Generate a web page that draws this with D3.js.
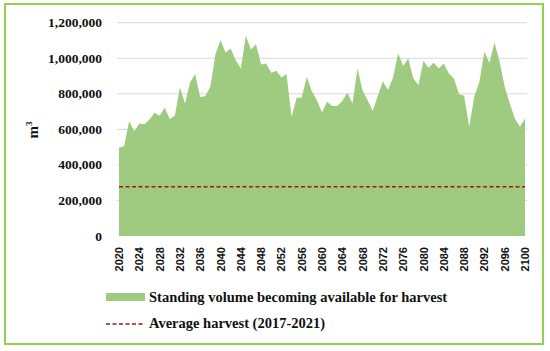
<!DOCTYPE html>
<html>
<head>
<meta charset="utf-8">
<script src="https://cdn.jsdelivr.net/npm/d3@7"></script>
<style>
  body { margin: 0; background: #fff; }
  svg { display: block; }
</style>
</head>
<body>
<div id="chart"></div>
<script>
// years 2020..2100, one value per year (m3)
const years = d3.range(2020, 2101);
const standingVolume = [
  498000, 505000, 646000, 590000, 633000, 628000, 656000, 693000, 677000, 721000,
  658000, 677000, 836000, 746000, 864000, 911000, 780000, 787000, 839000, 1021000,
  1102000, 1032000, 1055000, 989000, 943000, 1126000, 1049000, 1079000, 965000, 971000,
  918000, 929000, 892000, 911000, 671000, 777000, 779000, 896000, 815000, 764000,
  695000, 755000, 731000, 731000, 759000, 808000, 746000, 941000, 817000, 764000,
  703000, 789000, 871000, 821000, 892000, 1027000, 957000, 999000, 886000, 849000,
  985000, 946000, 974000, 943000, 971000, 914000, 886000, 798000, 789000, 615000,
  783000, 867000, 1036000, 974000, 1089000, 980000, 839000, 746000, 661000, 615000,
  661000
];
const averageHarvest = 277000;
const yTicks = [0, 200000, 400000, 600000, 800000, 1000000, 1200000];
const xTicks = d3.range(2020, 2101, 4);
const legendLabels = ['Standing volume becoming available for harvest', 'Average harvest (2017-2021)'];

const width = 550, height = 351;
const green = '#9ecb7f';
const red = '#b01010';

const svg = d3.select('#chart')
  .append('svg')
  .attr('width', width)
  .attr('height', height);

// outer frame
svg.append('rect')
  .attr('x', 5).attr('y', 4)
  .attr('width', 538).attr('height', 340)
  .attr('fill', 'none')
  .attr('stroke', '#92d050')
  .attr('stroke-width', 2);

const x = d3.scaleLinear().domain([2020, 2100]).range([119, 525]);
const y = d3.scaleLinear().domain([0, 1200000]).range([236, 22.7]);

// gridlines
svg.append('g')
  .selectAll('line')
  .data(yTicks.slice(1))
  .join('line')
  .attr('x1', 117).attr('x2', 527)
  .attr('y1', d => y(d)).attr('y2', d => y(d))
  .attr('stroke', '#d9d9d9')
  .attr('stroke-width', 1);

// area
const area = d3.area()
  .x((d, i) => x(years[i]))
  .y0(y(0))
  .y1(d => y(d));

svg.append('path')
  .datum(standingVolume)
  .attr('d', area)
  .attr('fill', green);

// average harvest line
svg.append('line')
  .attr('x1', x(2020)).attr('x2', x(2100))
  .attr('y1', y(averageHarvest)).attr('y2', y(averageHarvest))
  .attr('stroke', red)
  .attr('stroke-width', 1.6)
  .attr('stroke-dasharray', '4,2.5');

// y axis labels
svg.append('g')
  .selectAll('text')
  .data(yTicks)
  .join('text')
  .attr('x', 102)
  .attr('y', d => y(d) + 4.5)
  .attr('text-anchor', 'end')
  .attr('font-family', 'Liberation Serif, serif')
  .attr('font-weight', 'bold')
  .attr('font-size', 13.5)
  .attr('fill', '#111')
  .text(d => d3.format(',')(d));

// y title m3
const yt = svg.append('text')
  .attr('transform', 'translate(38,130) rotate(-90)')
  .attr('text-anchor', 'middle')
  .attr('font-family', 'Liberation Serif, serif')
  .attr('font-weight', 'bold')
  .attr('font-size', 15)
  .attr('fill', '#111');
yt.append('tspan').text('m');
yt.append('tspan').attr('font-size', 9).attr('dy', -6).text('3');

// x axis labels
svg.append('g')
  .selectAll('text')
  .data(xTicks)
  .join('text')
  .attr('transform', d => `translate(${x(d) + 4},247) rotate(-90)`)
  .attr('text-anchor', 'end')
  .attr('font-family', 'Liberation Sans, Arial, sans-serif')
  .attr('font-weight', 'bold')
  .attr('font-size', 11)
  .attr('fill', '#111')
  .text(d => d);

// legend
svg.append('rect')
  .attr('x', 106).attr('y', 293)
  .attr('width', 39).attr('height', 8)
  .attr('fill', green);
svg.append('line')
  .attr('x1', 106).attr('x2', 143)
  .attr('y1', 324).attr('y2', 324)
  .attr('stroke', red)
  .attr('stroke-width', 1.6)
  .attr('stroke-dasharray', '4,2.5');

svg.append('g')
  .selectAll('text')
  .data(legendLabels)
  .join('text')
  .attr('x', 149)
  .attr('y', (d, i) => 302 + i * 26)
  .attr('font-family', 'Liberation Serif, serif')
  .attr('font-weight', 'bold')
  .attr('font-size', 14.5)
  .attr('fill', '#111')
  .text(d => d);
</script>
</body>
</html>
